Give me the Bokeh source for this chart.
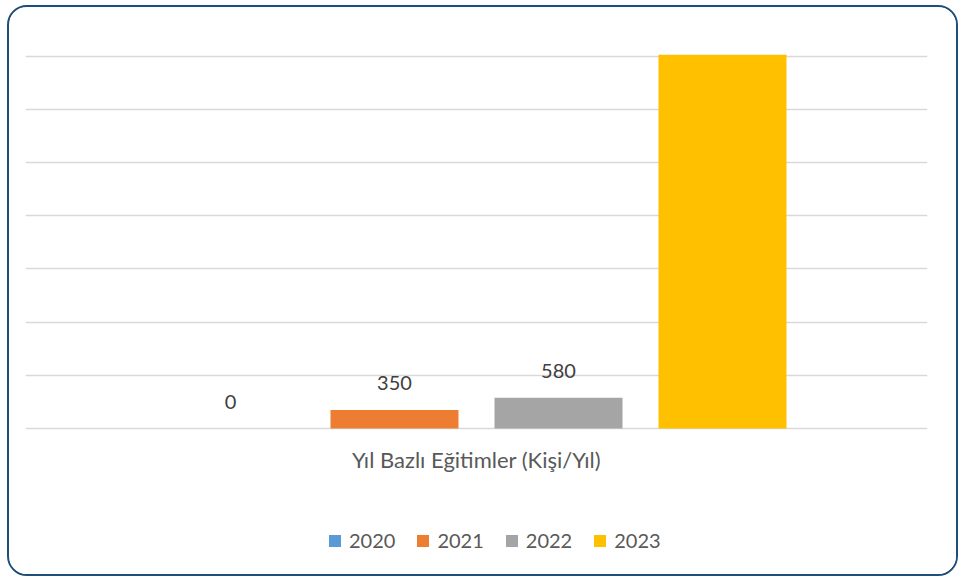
from bokeh.plotting import figure
from bokeh.models import FactorRange, Range1d, Legend, LegendItem, FixedTicker, ColumnDataSource
from bokeh.transform import dodge
from bokeh.core.properties import value
from bokeh.embed import file_html
from bokeh.resources import INLINE

category = ["Yıl Bazlı Eğitimler (Kişi/Yıl)"]
years = ["2020", "2021", "2022", "2023"]
values = [0, 350, 580, 7500]
colors = ["#5B9BD5", "#ED7D31", "#A5A5A5", "#FFC000"]
y_ticks = [0, 1000, 2000, 3000, 4000, 5000, 6000, 7000]
y_max = 7030

FONT = "Lato"
bar_w = 128 / 902
offsets = [-246 / 902, -82 / 902, 82 / 902, 246 / 902]

W, H = 951, 571
TOP, BOTTOM = 47, 1
frame_h = H - TOP - BOTTOM
plot_px = 374  # pixels between frame top and the zero line
y_min = y_max - frame_h * (y_max / plot_px)

p = figure(width=W, height=H,
           x_range=FactorRange(*category, range_padding=0),
           y_range=Range1d(y_min, y_max),
           output_backend="svg", toolbar_location=None,
           min_border_left=16, min_border_right=33,
           min_border_top=TOP, min_border_bottom=BOTTOM,
           outline_line_color=None, y_axis_location=None, x_axis_location=None,
           background_fill_color="white", border_fill_color="white",
           margin=(5, 0, 0, 7))
p.styles = {"border": "2px solid #1F4E79", "border-radius": "20px", "overflow": "hidden"}

p.xgrid.visible = False
p.ygrid.ticker = FixedTicker(ticks=y_ticks)
p.ygrid.grid_line_color = "#D9D9D9"
p.ygrid.grid_line_width = 1.3

# category label under the baseline
cat_src = ColumnDataSource(dict(cat=category, y=[0], lbl=category))
p.text(x="cat", y="y", text="lbl", source=cat_src,
       text_font=value(FONT), text_font_size="22px", text_color="#595959",
       text_align="center", text_baseline="middle", y_offset=31)

items = []
for yr, v, c, off in zip(years, values, colors, offsets):
    src = ColumnDataSource(dict(cat=category, val=[v], lbl=[str(v)]))
    r = p.vbar(x=dodge("cat", off, range=p.x_range), top="val", bottom=0, width=bar_w,
               source=src, fill_color=c, line_color=None)
    items.append(LegendItem(label=yr, renderers=[r]))
    if v <= y_max:
        p.text(x=dodge("cat", off, range=p.x_range), y="val", text="lbl", source=src,
               text_font=value(FONT), text_font_size="20px", text_color="#404040",
               text_align="center", text_baseline="middle", y_offset=-27)

legend = Legend(items=items, orientation="horizontal", location=(302, 25),
                glyph_width=15, glyph_height=15, label_standoff=7, spacing=20,
                label_text_font=FONT, label_text_font_size="20px", label_text_color="#595959",
                border_line_color=None, background_fill_alpha=0, margin=0, padding=5)
p.add_layout(legend)

open("out.html", "w").write(file_html(p, INLINE))
